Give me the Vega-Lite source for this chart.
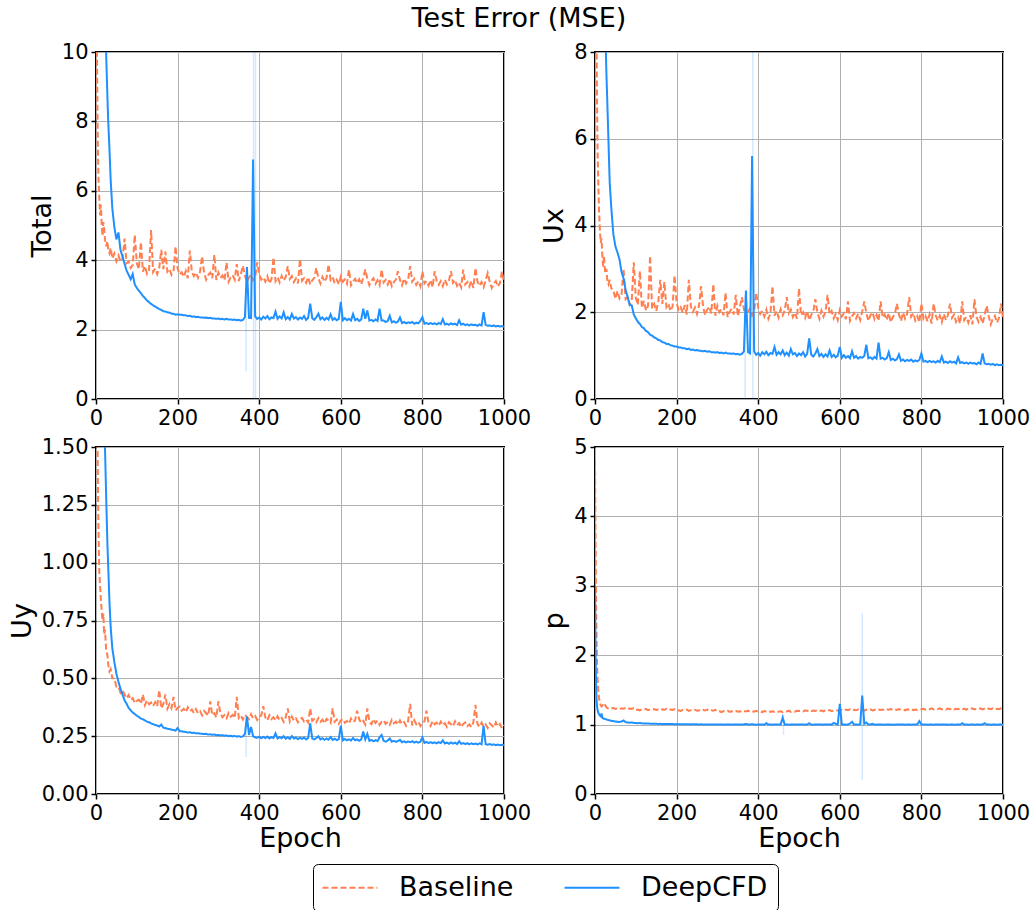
{
"$schema":"https://vega.github.io/schema/vega-lite/v6.json",
"background":"white",
"padding":{"left":7,"top":5,"right":5,"bottom":5},
"title":{"text":"Test Error (MSE)","fontSize":27,"font":"DejaVu Sans","fontWeight":"normal","color":"black","anchor":"middle","offset":7},
"datasets":{
"st":[
{"k":"T","e":368,"lo":0.8,"hi":3.6},
{"k":"T","e":386,"lo":0,"hi":10},
{"k":"T","e":391,"lo":0,"hi":10},
{"k":"X","e":368,"lo":0,"hi":2.4},
{"k":"X","e":387,"lo":0,"hi":8},
{"k":"Y","e":368,"lo":0.16,"hi":0.33},
{"k":"P","e":655,"lo":0.2,"hi":2.6},
{"k":"P","e":462,"lo":0.85,"hi":1.15}
],
"d":[
{"s":"Baseline","e":0,"T":16,"X":20,"Y":3.0,"P":4.8},
{"s":"Baseline","e":1,"T":13,"X":15,"Y":2.4,"P":4.0},
{"s":"Baseline","e":2,"T":10.5,"X":12,"Y":2.0,"P":3.2},
{"s":"Baseline","e":3,"T":9.0,"X":9.8,"Y":1.7,"P":2.6},
{"s":"Baseline","e":4,"T":7.8,"X":8.0,"Y":1.48,"P":2.2},
{"s":"Baseline","e":5,"T":7.0,"X":6.8,"Y":1.3,"P":1.9},
{"s":"Baseline","e":6,"T":6.4,"X":5.9,"Y":1.15,"P":1.7},
{"s":"Baseline","e":8,"T":5.8,"X":5.0,"Y":0.96,"P":1.5},
{"s":"Baseline","e":10,"T":5.3,"X":4.3,"Y":0.9,"P":1.38},
{"s":"Baseline","e":12,"T":5.6,"X":3.9,"Y":0.84,"P":1.31},
{"s":"Baseline","e":14,"T":5.0,"X":3.6,"Y":0.79,"P":1.28},
{"s":"Baseline","e":16,"T":4.7,"X":3.7,"Y":0.75,"P":1.26},
{"s":"Baseline","e":18,"T":5.1,"X":3.3,"Y":0.78,"P":1.27},
{"s":"Baseline","e":20,"T":4.9,"X":3.05,"Y":0.69,"P":1.3},
{"s":"Baseline","e":22,"T":4.6,"X":3.3,"Y":0.71,"P":1.31},
{"s":"Baseline","e":25,"T":4.4,"X":2.9,"Y":0.62,"P":1.28},
{"s":"Baseline","e":28,"T":4.55,"X":3.0,"Y":0.6,"P":1.25},
{"s":"Baseline","e":30,"T":4.3,"X":2.75,"Y":0.56,"P":1.24},
{"s":"Baseline","e":33,"T":4.2,"X":2.65,"Y":0.53,"P":1.23},
{"s":"Baseline","e":36,"T":4.35,"X":2.75,"Y":0.54,"P":1.225},
{"s":"Baseline","e":40,"T":4.05,"X":2.55,"Y":0.5,"P":1.235},
{"s":"Baseline","e":45,"T":4.19,"X":2.51,"Y":0.5,"P":1.238},
{"s":"Baseline","e":50,"T":3.97,"X":2.31,"Y":0.464,"P":1.225},
{"s":"Baseline","e":55,"T":4.14,"X":2.49,"Y":0.464,"P":1.232},
{"s":"Baseline","e":60,"T":3.96,"X":2.32,"Y":0.438,"P":1.221},
{"s":"Baseline","e":65,"T":4.04,"X":2.41,"Y":0.448,"P":1.236},
{"s":"Baseline","e":70,"T":4.62,"X":3.0,"Y":0.43,"P":1.228},
{"s":"Baseline","e":75,"T":3.91,"X":2.3,"Y":0.414,"P":1.24},
{"s":"Baseline","e":80,"T":3.96,"X":2.35,"Y":0.428,"P":1.223},
{"s":"Baseline","e":85,"T":3.78,"X":2.18,"Y":0.407,"P":1.233},
{"s":"Baseline","e":90,"T":3.86,"X":2.27,"Y":0.414,"P":1.226},
{"s":"Baseline","e":95,"T":4.73,"X":3.15,"Y":0.393,"P":1.238},
{"s":"Baseline","e":100,"T":3.91,"X":2.33,"Y":0.403,"P":1.21},
{"s":"Baseline","e":105,"T":3.74,"X":2.17,"Y":0.408,"P":1.217},
{"s":"Baseline","e":110,"T":4.52,"X":2.95,"Y":0.39,"P":1.206},
{"s":"Baseline","e":115,"T":3.67,"X":2.1,"Y":0.43,"P":1.221},
{"s":"Baseline","e":120,"T":3.83,"X":2.26,"Y":0.384,"P":1.213},
{"s":"Baseline","e":125,"T":3.61,"X":2.04,"Y":0.405,"P":1.225},
{"s":"Baseline","e":130,"T":3.72,"X":2.15,"Y":0.388,"P":1.208},
{"s":"Baseline","e":135,"T":4.87,"X":3.3,"Y":0.395,"P":1.218},
{"s":"Baseline","e":140,"T":3.66,"X":2.09,"Y":0.38,"P":1.211},
{"s":"Baseline","e":145,"T":3.76,"X":2.19,"Y":0.397,"P":1.223},
{"s":"Baseline","e":150,"T":3.6,"X":2.03,"Y":0.379,"P":1.21},
{"s":"Baseline","e":155,"T":3.78,"X":2.23,"Y":0.45,"P":1.217},
{"s":"Baseline","e":160,"T":4.3,"X":2.75,"Y":0.37,"P":1.206},
{"s":"Baseline","e":165,"T":3.74,"X":2.19,"Y":0.389,"P":1.221},
{"s":"Baseline","e":170,"T":4.25,"X":2.7,"Y":0.43,"P":1.213},
{"s":"Baseline","e":175,"T":3.67,"X":2.12,"Y":0.369,"P":1.225},
{"s":"Baseline","e":180,"T":3.75,"X":2.2,"Y":0.389,"P":1.208},
{"s":"Baseline","e":185,"T":3.58,"X":2.03,"Y":0.371,"P":1.218},
{"s":"Baseline","e":190,"T":3.68,"X":2.13,"Y":0.42,"P":1.211},
{"s":"Baseline","e":195,"T":4.4,"X":2.85,"Y":0.361,"P":1.223},
{"s":"Baseline","e":200,"T":3.76,"X":2.21,"Y":0.373,"P":1.2},
{"s":"Baseline","e":205,"T":3.59,"X":2.06,"Y":0.378,"P":1.207},
{"s":"Baseline","e":210,"T":3.65,"X":2.12,"Y":0.36,"P":1.196},
{"s":"Baseline","e":215,"T":3.52,"X":1.99,"Y":0.368,"P":1.211},
{"s":"Baseline","e":220,"T":3.69,"X":2.16,"Y":0.354,"P":1.203},
{"s":"Baseline","e":225,"T":3.48,"X":1.95,"Y":0.375,"P":1.215},
{"s":"Baseline","e":230,"T":4.28,"X":2.75,"Y":0.358,"P":1.198},
{"s":"Baseline","e":235,"T":3.66,"X":2.13,"Y":0.365,"P":1.208},
{"s":"Baseline","e":240,"T":3.54,"X":2.01,"Y":0.35,"P":1.201},
{"s":"Baseline","e":245,"T":3.64,"X":2.11,"Y":0.367,"P":1.213},
{"s":"Baseline","e":250,"T":3.49,"X":1.96,"Y":0.349,"P":1.2},
{"s":"Baseline","e":255,"T":3.67,"X":2.16,"Y":0.358,"P":1.207},
{"s":"Baseline","e":260,"T":4.11,"X":2.6,"Y":0.34,"P":1.196},
{"s":"Baseline","e":265,"T":3.63,"X":2.12,"Y":0.359,"P":1.211},
{"s":"Baseline","e":270,"T":3.44,"X":1.93,"Y":0.349,"P":1.203},
{"s":"Baseline","e":275,"T":3.57,"X":2.06,"Y":0.339,"P":1.215},
{"s":"Baseline","e":280,"T":3.64,"X":2.13,"Y":0.4,"P":1.198},
{"s":"Baseline","e":285,"T":3.48,"X":1.97,"Y":0.341,"P":1.208},
{"s":"Baseline","e":290,"T":4.16,"X":2.65,"Y":0.349,"P":1.201},
{"s":"Baseline","e":295,"T":3.43,"X":1.92,"Y":0.331,"P":1.213},
{"s":"Baseline","e":300,"T":3.64,"X":2.15,"Y":0.4,"P":1.185},
{"s":"Baseline","e":305,"T":3.49,"X":2.0,"Y":0.349,"P":1.192},
{"s":"Baseline","e":310,"T":3.56,"X":2.07,"Y":0.332,"P":1.181},
{"s":"Baseline","e":315,"T":3.42,"X":1.93,"Y":0.341,"P":1.196},
{"s":"Baseline","e":320,"T":3.94,"X":2.45,"Y":0.328,"P":1.188},
{"s":"Baseline","e":325,"T":3.38,"X":1.89,"Y":0.35,"P":1.2},
{"s":"Baseline","e":330,"T":3.5,"X":2.01,"Y":0.334,"P":1.183},
{"s":"Baseline","e":335,"T":3.57,"X":2.08,"Y":0.342,"P":1.193},
{"s":"Baseline","e":340,"T":3.44,"X":1.95,"Y":0.328,"P":1.186},
{"s":"Baseline","e":345,"T":3.89,"X":2.4,"Y":0.42,"P":1.198},
{"s":"Baseline","e":350,"T":3.4,"X":1.91,"Y":0.329,"P":1.185},
{"s":"Baseline","e":355,"T":3.6,"X":2.11,"Y":0.339,"P":1.192},
{"s":"Baseline","e":360,"T":3.84,"X":2.35,"Y":0.322,"P":1.181},
{"s":"Baseline","e":365,"T":3.56,"X":2.07,"Y":0.342,"P":1.196},
{"s":"Baseline","e":370,"T":3.37,"X":1.88,"Y":0.333,"P":1.188},
{"s":"Baseline","e":375,"T":3.5,"X":2.01,"Y":0.324,"P":1.2},
{"s":"Baseline","e":380,"T":3.58,"X":2.09,"Y":0.345,"P":1.183},
{"s":"Baseline","e":385,"T":3.42,"X":1.93,"Y":0.328,"P":1.193},
{"s":"Baseline","e":390,"T":3.51,"X":2.02,"Y":0.337,"P":1.186},
{"s":"Baseline","e":395,"T":3.94,"X":2.45,"Y":0.32,"P":1.198},
{"s":"Baseline","e":400,"T":3.6,"X":2.11,"Y":0.333,"P":1.185},
{"s":"Baseline","e":405,"T":3.44,"X":1.96,"Y":0.339,"P":1.192},
{"s":"Baseline","e":410,"T":3.51,"X":2.03,"Y":0.38,"P":1.181},
{"s":"Baseline","e":415,"T":3.38,"X":1.9,"Y":0.331,"P":1.196},
{"s":"Baseline","e":420,"T":3.54,"X":2.06,"Y":0.318,"P":1.188},
{"s":"Baseline","e":425,"T":3.33,"X":1.85,"Y":0.34,"P":1.2},
{"s":"Baseline","e":430,"T":3.45,"X":1.97,"Y":0.324,"P":1.183},
{"s":"Baseline","e":435,"T":4.08,"X":2.6,"Y":0.332,"P":1.193},
{"s":"Baseline","e":440,"T":3.4,"X":1.92,"Y":0.318,"P":1.186},
{"s":"Baseline","e":445,"T":3.51,"X":2.03,"Y":0.336,"P":1.198},
{"s":"Baseline","e":450,"T":3.36,"X":1.88,"Y":0.319,"P":1.185},
{"s":"Baseline","e":455,"T":3.55,"X":2.07,"Y":0.329,"P":1.192},
{"s":"Baseline","e":460,"T":3.41,"X":1.93,"Y":0.312,"P":1.181},
{"s":"Baseline","e":465,"T":3.52,"X":2.04,"Y":0.332,"P":1.196},
{"s":"Baseline","e":470,"T":3.83,"X":2.35,"Y":0.37,"P":1.188},
{"s":"Baseline","e":475,"T":3.46,"X":1.98,"Y":0.314,"P":1.2},
{"s":"Baseline","e":480,"T":3.54,"X":2.06,"Y":0.335,"P":1.183},
{"s":"Baseline","e":485,"T":3.37,"X":1.89,"Y":0.318,"P":1.193},
{"s":"Baseline","e":490,"T":3.47,"X":1.99,"Y":0.327,"P":1.186},
{"s":"Baseline","e":495,"T":3.33,"X":1.85,"Y":0.31,"P":1.198},
{"s":"Baseline","e":500,"T":4.03,"X":2.55,"Y":0.323,"P":1.195},
{"s":"Baseline","e":505,"T":3.41,"X":1.93,"Y":0.329,"P":1.202},
{"s":"Baseline","e":510,"T":3.48,"X":2.0,"Y":0.313,"P":1.191},
{"s":"Baseline","e":515,"T":3.35,"X":1.87,"Y":0.321,"P":1.206},
{"s":"Baseline","e":520,"T":3.51,"X":2.03,"Y":0.309,"P":1.198},
{"s":"Baseline","e":525,"T":3.3,"X":1.82,"Y":0.37,"P":1.21},
{"s":"Baseline","e":530,"T":3.42,"X":1.94,"Y":0.316,"P":1.193},
{"s":"Baseline","e":535,"T":3.49,"X":2.01,"Y":0.323,"P":1.203},
{"s":"Baseline","e":540,"T":3.78,"X":2.3,"Y":0.31,"P":1.196},
{"s":"Baseline","e":545,"T":3.48,"X":2.0,"Y":0.328,"P":1.208},
{"s":"Baseline","e":550,"T":3.33,"X":1.85,"Y":0.312,"P":1.195},
{"s":"Baseline","e":555,"T":3.52,"X":2.04,"Y":0.321,"P":1.202},
{"s":"Baseline","e":560,"T":3.38,"X":1.9,"Y":0.305,"P":1.191},
{"s":"Baseline","e":565,"T":3.49,"X":2.01,"Y":0.325,"P":1.206},
{"s":"Baseline","e":570,"T":3.88,"X":2.4,"Y":0.317,"P":1.198},
{"s":"Baseline","e":575,"T":3.43,"X":1.95,"Y":0.307,"P":1.21},
{"s":"Baseline","e":580,"T":3.51,"X":2.03,"Y":0.37,"P":1.193},
{"s":"Baseline","e":585,"T":3.34,"X":1.86,"Y":0.312,"P":1.203},
{"s":"Baseline","e":590,"T":3.44,"X":1.96,"Y":0.322,"P":1.196},
{"s":"Baseline","e":595,"T":3.3,"X":1.82,"Y":0.304,"P":1.208},
{"s":"Baseline","e":600,"T":3.53,"X":2.05,"Y":0.318,"P":1.205},
{"s":"Baseline","e":605,"T":3.38,"X":1.9,"Y":0.324,"P":1.212},
{"s":"Baseline","e":610,"T":3.45,"X":1.97,"Y":0.308,"P":1.201},
{"s":"Baseline","e":615,"T":3.32,"X":1.84,"Y":0.316,"P":1.216},
{"s":"Baseline","e":620,"T":3.73,"X":2.25,"Y":0.304,"P":1.208},
{"s":"Baseline","e":625,"T":3.28,"X":1.8,"Y":0.326,"P":1.22},
{"s":"Baseline","e":630,"T":3.39,"X":1.91,"Y":0.311,"P":1.203},
{"s":"Baseline","e":635,"T":3.46,"X":1.98,"Y":0.318,"P":1.213},
{"s":"Baseline","e":640,"T":3.34,"X":1.86,"Y":0.36,"P":1.206},
{"s":"Baseline","e":645,"T":3.45,"X":1.97,"Y":0.323,"P":1.218},
{"s":"Baseline","e":650,"T":3.3,"X":1.82,"Y":0.307,"P":1.205},
{"s":"Baseline","e":655,"T":3.5,"X":2.02,"Y":0.316,"P":1.212},
{"s":"Baseline","e":660,"T":3.73,"X":2.25,"Y":0.3,"P":1.201},
{"s":"Baseline","e":665,"T":3.47,"X":1.99,"Y":0.37,"P":1.216},
{"s":"Baseline","e":670,"T":3.28,"X":1.8,"Y":0.312,"P":1.208},
{"s":"Baseline","e":675,"T":3.41,"X":1.93,"Y":0.302,"P":1.22},
{"s":"Baseline","e":680,"T":3.48,"X":2.0,"Y":0.324,"P":1.203},
{"s":"Baseline","e":685,"T":3.32,"X":1.84,"Y":0.307,"P":1.213},
{"s":"Baseline","e":690,"T":3.42,"X":1.94,"Y":0.317,"P":1.206},
{"s":"Baseline","e":695,"T":3.28,"X":1.8,"Y":0.299,"P":1.218},
{"s":"Baseline","e":700,"T":3.73,"X":2.25,"Y":0.313,"P":1.21},
{"s":"Baseline","e":705,"T":3.36,"X":1.88,"Y":0.319,"P":1.217},
{"s":"Baseline","e":710,"T":3.43,"X":1.95,"Y":0.303,"P":1.206},
{"s":"Baseline","e":715,"T":3.3,"X":1.82,"Y":0.311,"P":1.221},
{"s":"Baseline","e":720,"T":3.46,"X":1.98,"Y":0.299,"P":1.213},
{"s":"Baseline","e":725,"T":3.25,"X":1.77,"Y":0.321,"P":1.225},
{"s":"Baseline","e":730,"T":3.37,"X":1.89,"Y":0.306,"P":1.208},
{"s":"Baseline","e":735,"T":3.44,"X":1.96,"Y":0.313,"P":1.218},
{"s":"Baseline","e":740,"T":3.68,"X":2.2,"Y":0.3,"P":1.211},
{"s":"Baseline","e":745,"T":3.43,"X":1.95,"Y":0.318,"P":1.223},
{"s":"Baseline","e":750,"T":3.28,"X":1.8,"Y":0.302,"P":1.21},
{"s":"Baseline","e":755,"T":3.47,"X":1.99,"Y":0.311,"P":1.217},
{"s":"Baseline","e":760,"T":3.33,"X":1.85,"Y":0.295,"P":1.206},
{"s":"Baseline","e":765,"T":3.44,"X":1.96,"Y":0.315,"P":1.221},
{"s":"Baseline","e":770,"T":3.83,"X":2.35,"Y":0.39,"P":1.213},
{"s":"Baseline","e":775,"T":3.38,"X":1.9,"Y":0.297,"P":1.225},
{"s":"Baseline","e":780,"T":3.46,"X":1.98,"Y":0.319,"P":1.208},
{"s":"Baseline","e":785,"T":3.29,"X":1.81,"Y":0.302,"P":1.218},
{"s":"Baseline","e":790,"T":3.39,"X":1.91,"Y":0.312,"P":1.211},
{"s":"Baseline","e":795,"T":3.25,"X":1.77,"Y":0.294,"P":1.223},
{"s":"Baseline","e":800,"T":3.68,"X":2.2,"Y":0.308,"P":1.22},
{"s":"Baseline","e":805,"T":3.33,"X":1.85,"Y":0.314,"P":1.227},
{"s":"Baseline","e":810,"T":3.4,"X":1.92,"Y":0.36,"P":1.216},
{"s":"Baseline","e":815,"T":3.27,"X":1.79,"Y":0.306,"P":1.231},
{"s":"Baseline","e":820,"T":3.43,"X":1.95,"Y":0.294,"P":1.223},
{"s":"Baseline","e":825,"T":3.22,"X":1.74,"Y":0.316,"P":1.235},
{"s":"Baseline","e":830,"T":3.68,"X":2.2,"Y":0.301,"P":1.218},
{"s":"Baseline","e":835,"T":3.41,"X":1.93,"Y":0.308,"P":1.228},
{"s":"Baseline","e":840,"T":3.29,"X":1.81,"Y":0.295,"P":1.221},
{"s":"Baseline","e":845,"T":3.4,"X":1.92,"Y":0.313,"P":1.233},
{"s":"Baseline","e":850,"T":3.25,"X":1.77,"Y":0.297,"P":1.22},
{"s":"Baseline","e":855,"T":3.44,"X":1.96,"Y":0.306,"P":1.227},
{"s":"Baseline","e":860,"T":3.3,"X":1.82,"Y":0.29,"P":1.216},
{"s":"Baseline","e":865,"T":3.41,"X":1.93,"Y":0.31,"P":1.231},
{"s":"Baseline","e":870,"T":3.68,"X":2.2,"Y":0.302,"P":1.223},
{"s":"Baseline","e":875,"T":3.35,"X":1.87,"Y":0.292,"P":1.235},
{"s":"Baseline","e":880,"T":3.43,"X":1.95,"Y":0.314,"P":1.218},
{"s":"Baseline","e":885,"T":3.26,"X":1.78,"Y":0.297,"P":1.228},
{"s":"Baseline","e":890,"T":3.36,"X":1.88,"Y":0.307,"P":1.221},
{"s":"Baseline","e":895,"T":3.22,"X":1.74,"Y":0.289,"P":1.233},
{"s":"Baseline","e":900,"T":3.73,"X":2.25,"Y":0.303,"P":1.22},
{"s":"Baseline","e":905,"T":3.3,"X":1.82,"Y":0.309,"P":1.227},
{"s":"Baseline","e":910,"T":3.37,"X":1.89,"Y":0.293,"P":1.216},
{"s":"Baseline","e":915,"T":3.24,"X":1.76,"Y":0.301,"P":1.231},
{"s":"Baseline","e":920,"T":3.41,"X":1.93,"Y":0.289,"P":1.223},
{"s":"Baseline","e":925,"T":3.2,"X":1.72,"Y":0.311,"P":1.235},
{"s":"Baseline","e":930,"T":3.78,"X":2.3,"Y":0.385,"P":1.218},
{"s":"Baseline","e":935,"T":3.38,"X":1.9,"Y":0.303,"P":1.228},
{"s":"Baseline","e":940,"T":3.26,"X":1.78,"Y":0.29,"P":1.221},
{"s":"Baseline","e":945,"T":3.37,"X":1.89,"Y":0.308,"P":1.233},
{"s":"Baseline","e":950,"T":3.22,"X":1.74,"Y":0.292,"P":1.22},
{"s":"Baseline","e":955,"T":3.42,"X":1.94,"Y":0.301,"P":1.227},
{"s":"Baseline","e":960,"T":3.63,"X":2.15,"Y":0.285,"P":1.216},
{"s":"Baseline","e":965,"T":3.39,"X":1.91,"Y":0.305,"P":1.231},
{"s":"Baseline","e":970,"T":3.2,"X":1.72,"Y":0.297,"P":1.223},
{"s":"Baseline","e":975,"T":3.33,"X":1.85,"Y":0.287,"P":1.235},
{"s":"Baseline","e":980,"T":3.4,"X":1.92,"Y":0.309,"P":1.218},
{"s":"Baseline","e":985,"T":3.24,"X":1.76,"Y":0.292,"P":1.228},
{"s":"Baseline","e":990,"T":3.34,"X":1.86,"Y":0.302,"P":1.221},
{"s":"Baseline","e":995,"T":3.68,"X":2.2,"Y":0.284,"P":1.233},
{"s":"Baseline","e":1000,"T":3.33,"X":1.85,"Y":0.298,"P":1.22},
{"s":"DeepCFD","e":0,"T":60,"X":50,"Y":6.0,"P":3.0},
{"s":"DeepCFD","e":1,"T":55,"X":45,"Y":5.5,"P":2.3},
{"s":"DeepCFD","e":2,"T":50,"X":41,"Y":5.0,"P":1.8},
{"s":"DeepCFD","e":3,"T":46,"X":37,"Y":4.6,"P":1.5},
{"s":"DeepCFD","e":4,"T":42,"X":34,"Y":4.2,"P":1.35},
{"s":"DeepCFD","e":5,"T":39,"X":31,"Y":3.9,"P":1.27},
{"s":"DeepCFD","e":6,"T":36,"X":28,"Y":3.6,"P":1.22},
{"s":"DeepCFD","e":8,"T":31,"X":24,"Y":3.1,"P":1.17},
{"s":"DeepCFD","e":10,"T":27,"X":20,"Y":2.7,"P":1.15},
{"s":"DeepCFD","e":12,"T":23,"X":17.5,"Y":2.4,"P":1.13},
{"s":"DeepCFD","e":14,"T":20,"X":15.5,"Y":2.15,"P":1.12},
{"s":"DeepCFD","e":16,"T":17,"X":14,"Y":1.97,"P":1.16},
{"s":"DeepCFD","e":18,"T":15,"X":12.7,"Y":1.83,"P":1.1},
{"s":"DeepCFD","e":20,"T":13.2,"X":11.5,"Y":1.7,"P":1.09},
{"s":"DeepCFD","e":22,"T":11.8,"X":10.2,"Y":1.5,"P":1.085},
{"s":"DeepCFD","e":25,"T":9.9,"X":8.6,"Y":1.28,"P":1.08},
{"s":"DeepCFD","e":28,"T":8.7,"X":7.5,"Y":1.08,"P":1.075},
{"s":"DeepCFD","e":30,"T":8.0,"X":6.9,"Y":0.98,"P":1.07},
{"s":"DeepCFD","e":33,"T":7.2,"X":5.95,"Y":0.83,"P":1.065},
{"s":"DeepCFD","e":36,"T":6.3,"X":5.0,"Y":0.72,"P":1.06},
{"s":"DeepCFD","e":40,"T":5.5,"X":4.4,"Y":0.63,"P":1.055},
{"s":"DeepCFD","e":45,"T":4.95,"X":3.8,"Y":0.57,"P":1.05},
{"s":"DeepCFD","e":50,"T":4.6,"X":3.52,"Y":0.52,"P":1.045},
{"s":"DeepCFD","e":55,"T":4.8,"X":3.38,"Y":0.485,"P":1.04},
{"s":"DeepCFD","e":60,"T":4.3,"X":3.22,"Y":0.455,"P":1.038},
{"s":"DeepCFD","e":65,"T":4.1,"X":2.93,"Y":0.43,"P":1.045},
{"s":"DeepCFD","e":70,"T":3.9,"X":2.78,"Y":0.405,"P":1.06},
{"s":"DeepCFD","e":75,"T":3.7,"X":2.52,"Y":0.39,"P":1.035},
{"s":"DeepCFD","e":80,"T":3.58,"X":2.35,"Y":0.372,"P":1.03},
{"s":"DeepCFD","e":85,"T":3.45,"X":2.17,"Y":0.362,"P":1.028},
{"s":"DeepCFD","e":90,"T":3.6,"X":2.16,"Y":0.352,"P":1.03},
{"s":"DeepCFD","e":95,"T":3.3,"X":1.95,"Y":0.346,"P":1.025},
{"s":"DeepCFD","e":100,"T":3.2,"X":1.86,"Y":0.338,"P":1.022},
{"s":"DeepCFD","e":105,"T":3.12,"X":1.78,"Y":0.333,"P":1.02},
{"s":"DeepCFD","e":110,"T":3.05,"X":1.73,"Y":0.326,"P":1.024},
{"s":"DeepCFD","e":115,"T":2.97,"X":1.66,"Y":0.323,"P":1.018},
{"s":"DeepCFD","e":120,"T":2.91,"X":1.63,"Y":0.318,"P":1.017},
{"s":"DeepCFD","e":125,"T":2.84,"X":1.57,"Y":0.313,"P":1.015},
{"s":"DeepCFD","e":130,"T":2.79,"X":1.54,"Y":0.31,"P":1.016},
{"s":"DeepCFD","e":135,"T":2.74,"X":1.48,"Y":0.305,"P":1.013},
{"s":"DeepCFD","e":140,"T":2.7,"X":1.46,"Y":0.302,"P":1.014},
{"s":"DeepCFD","e":145,"T":2.66,"X":1.42,"Y":0.298,"P":1.012},
{"s":"DeepCFD","e":150,"T":2.63,"X":1.4,"Y":0.296,"P":1.012},
{"s":"DeepCFD","e":155,"T":2.59,"X":1.36,"Y":0.292,"P":1.01},
{"s":"DeepCFD","e":160,"T":2.57,"X":1.35,"Y":0.3,"P":1.011},
{"s":"DeepCFD","e":165,"T":2.53,"X":1.31,"Y":0.287,"P":1.009},
{"s":"DeepCFD","e":170,"T":2.52,"X":1.3,"Y":0.285,"P":1.01},
{"s":"DeepCFD","e":175,"T":2.5,"X":1.27,"Y":0.282,"P":1.008},
{"s":"DeepCFD","e":180,"T":2.49,"X":1.27,"Y":0.281,"P":1.009},
{"s":"DeepCFD","e":185,"T":2.46,"X":1.24,"Y":0.278,"P":1.007},
{"s":"DeepCFD","e":190,"T":2.46,"X":1.23,"Y":0.277,"P":1.008},
{"s":"DeepCFD","e":195,"T":2.43,"X":1.21,"Y":0.274,"P":1.006},
{"s":"DeepCFD","e":200,"T":2.44,"X":1.21,"Y":0.285,"P":1.007},
{"s":"DeepCFD","e":205,"T":2.43,"X":1.19,"Y":0.272,"P":1.005},
{"s":"DeepCFD","e":210,"T":2.43,"X":1.19,"Y":0.271,"P":1.006},
{"s":"DeepCFD","e":215,"T":2.41,"X":1.17,"Y":0.269,"P":1.004},
{"s":"DeepCFD","e":220,"T":2.41,"X":1.17,"Y":0.268,"P":1.006},
{"s":"DeepCFD","e":225,"T":2.39,"X":1.15,"Y":0.266,"P":1.004},
{"s":"DeepCFD","e":230,"T":2.4,"X":1.16,"Y":0.267,"P":1.005},
{"s":"DeepCFD","e":235,"T":2.37,"X":1.13,"Y":0.264,"P":1.003},
{"s":"DeepCFD","e":240,"T":2.38,"X":1.14,"Y":0.265,"P":1.005},
{"s":"DeepCFD","e":245,"T":2.36,"X":1.12,"Y":0.262,"P":1.003},
{"s":"DeepCFD","e":250,"T":2.37,"X":1.13,"Y":0.263,"P":1.004},
{"s":"DeepCFD","e":255,"T":2.35,"X":1.11,"Y":0.261,"P":1.002},
{"s":"DeepCFD","e":260,"T":2.35,"X":1.11,"Y":0.26,"P":1.004},
{"s":"DeepCFD","e":265,"T":2.34,"X":1.1,"Y":0.259,"P":1.002},
{"s":"DeepCFD","e":270,"T":2.35,"X":1.11,"Y":0.26,"P":1.003},
{"s":"DeepCFD","e":275,"T":2.33,"X":1.09,"Y":0.257,"P":1.001},
{"s":"DeepCFD","e":280,"T":2.34,"X":1.1,"Y":0.258,"P":1.003},
{"s":"DeepCFD","e":285,"T":2.32,"X":1.08,"Y":0.256,"P":1.001},
{"s":"DeepCFD","e":290,"T":2.32,"X":1.08,"Y":0.257,"P":1.003},
{"s":"DeepCFD","e":295,"T":2.31,"X":1.07,"Y":0.254,"P":1.0},
{"s":"DeepCFD","e":300,"T":2.32,"X":1.08,"Y":0.255,"P":1.002},
{"s":"DeepCFD","e":305,"T":2.3,"X":1.06,"Y":0.253,"P":1.0},
{"s":"DeepCFD","e":310,"T":2.31,"X":1.07,"Y":0.254,"P":1.002},
{"s":"DeepCFD","e":315,"T":2.29,"X":1.05,"Y":0.252,"P":0.999},
{"s":"DeepCFD","e":320,"T":2.31,"X":1.07,"Y":0.253,"P":1.001},
{"s":"DeepCFD","e":325,"T":2.29,"X":1.05,"Y":0.25,"P":1.0},
{"s":"DeepCFD","e":330,"T":2.29,"X":1.05,"Y":0.252,"P":1.002},
{"s":"DeepCFD","e":335,"T":2.28,"X":1.04,"Y":0.249,"P":0.999},
{"s":"DeepCFD","e":340,"T":2.29,"X":1.05,"Y":0.251,"P":1.001},
{"s":"DeepCFD","e":345,"T":2.27,"X":1.03,"Y":0.248,"P":1.0},
{"s":"DeepCFD","e":350,"T":2.28,"X":1.04,"Y":0.25,"P":1.002},
{"s":"DeepCFD","e":355,"T":2.26,"X":1.02,"Y":0.247,"P":0.999},
{"s":"DeepCFD","e":360,"T":2.28,"X":1.04,"Y":0.249,"P":1.001},
{"s":"DeepCFD","e":365,"T":2.36,"X":1.1,"Y":0.26,"P":1.003},
{"s":"DeepCFD","e":370,"T":3.8,"X":2.5,"Y":0.335,"P":1.01},
{"s":"DeepCFD","e":375,"T":2.34,"X":1.08,"Y":0.255,"P":1.0},
{"s":"DeepCFD","e":380,"T":2.33,"X":1.05,"Y":0.29,"P":1.002},
{"s":"DeepCFD","e":385,"T":6.9,"X":5.6,"Y":0.25,"P":1.005},
{"s":"DeepCFD","e":390,"T":2.38,"X":1.1,"Y":0.245,"P":1.0},
{"s":"DeepCFD","e":395,"T":2.31,"X":1.02,"Y":0.243,"P":0.999},
{"s":"DeepCFD","e":400,"T":2.35,"X":1.06,"Y":0.248,"P":1.002},
{"s":"DeepCFD","e":405,"T":2.29,"X":1.0,"Y":0.241,"P":1.0},
{"s":"DeepCFD","e":410,"T":2.37,"X":1.08,"Y":0.247,"P":1.001},
{"s":"DeepCFD","e":415,"T":2.32,"X":1.03,"Y":0.242,"P":0.999},
{"s":"DeepCFD","e":420,"T":2.39,"X":1.09,"Y":0.248,"P":1.02},
{"s":"DeepCFD","e":425,"T":2.3,"X":1.01,"Y":0.24,"P":1.0},
{"s":"DeepCFD","e":430,"T":2.35,"X":1.06,"Y":0.246,"P":1.001},
{"s":"DeepCFD","e":435,"T":2.33,"X":1.04,"Y":0.242,"P":0.999},
{"s":"DeepCFD","e":440,"T":2.52,"X":1.2,"Y":0.262,"P":1.003},
{"s":"DeepCFD","e":445,"T":2.31,"X":1.02,"Y":0.24,"P":1.0},
{"s":"DeepCFD","e":450,"T":2.38,"X":1.08,"Y":0.246,"P":1.002},
{"s":"DeepCFD","e":455,"T":2.32,"X":1.03,"Y":0.241,"P":0.999},
{"s":"DeepCFD","e":460,"T":2.5,"X":1.12,"Y":0.25,"P":1.1},
{"s":"DeepCFD","e":465,"T":2.3,"X":1.01,"Y":0.239,"P":1.0},
{"s":"DeepCFD","e":470,"T":2.36,"X":1.07,"Y":0.245,"P":1.001},
{"s":"DeepCFD","e":475,"T":2.29,"X":1.0,"Y":0.238,"P":0.999},
{"s":"DeepCFD","e":480,"T":2.45,"X":1.15,"Y":0.25,"P":1.002},
{"s":"DeepCFD","e":485,"T":2.32,"X":1.03,"Y":0.24,"P":1.0},
{"s":"DeepCFD","e":490,"T":2.36,"X":1.06,"Y":0.244,"P":1.001},
{"s":"DeepCFD","e":495,"T":2.29,"X":0.99,"Y":0.237,"P":0.999},
{"s":"DeepCFD","e":500,"T":2.35,"X":1.05,"Y":0.243,"P":1.001},
{"s":"DeepCFD","e":505,"T":2.31,"X":1.01,"Y":0.238,"P":1.0},
{"s":"DeepCFD","e":510,"T":2.39,"X":1.08,"Y":0.244,"P":1.002},
{"s":"DeepCFD","e":515,"T":2.28,"X":0.98,"Y":0.236,"P":0.999},
{"s":"DeepCFD","e":520,"T":2.34,"X":1.04,"Y":0.242,"P":1.001},
{"s":"DeepCFD","e":525,"T":2.75,"X":1.4,"Y":0.305,"P":1.02},
{"s":"DeepCFD","e":530,"T":2.33,"X":1.02,"Y":0.24,"P":1.0},
{"s":"DeepCFD","e":535,"T":2.28,"X":0.98,"Y":0.236,"P":0.999},
{"s":"DeepCFD","e":540,"T":2.36,"X":1.05,"Y":0.242,"P":1.001},
{"s":"DeepCFD","e":545,"T":2.46,"X":1.15,"Y":0.25,"P":1.003},
{"s":"DeepCFD","e":550,"T":2.3,"X":0.99,"Y":0.236,"P":1.0},
{"s":"DeepCFD","e":555,"T":2.35,"X":1.04,"Y":0.241,"P":1.001},
{"s":"DeepCFD","e":560,"T":2.28,"X":0.97,"Y":0.234,"P":0.999},
{"s":"DeepCFD","e":565,"T":2.34,"X":1.03,"Y":0.24,"P":1.002},
{"s":"DeepCFD","e":570,"T":2.29,"X":0.98,"Y":0.235,"P":1.0},
{"s":"DeepCFD","e":575,"T":2.44,"X":1.12,"Y":0.246,"P":1.003},
{"s":"DeepCFD","e":580,"T":2.28,"X":0.97,"Y":0.234,"P":0.999},
{"s":"DeepCFD","e":585,"T":2.33,"X":1.02,"Y":0.239,"P":1.025},
{"s":"DeepCFD","e":590,"T":2.27,"X":0.96,"Y":0.233,"P":1.01},
{"s":"DeepCFD","e":595,"T":2.31,"X":1.0,"Y":0.237,"P":1.0},
{"s":"DeepCFD","e":600,"T":2.8,"X":1.2,"Y":0.295,"P":1.3},
{"s":"DeepCFD","e":605,"T":2.27,"X":0.95,"Y":0.232,"P":1.0},
{"s":"DeepCFD","e":610,"T":2.33,"X":1.01,"Y":0.238,"P":1.002},
{"s":"DeepCFD","e":615,"T":2.27,"X":0.95,"Y":0.232,"P":0.999},
{"s":"DeepCFD","e":620,"T":2.31,"X":0.99,"Y":0.236,"P":1.001},
{"s":"DeepCFD","e":625,"T":2.26,"X":0.94,"Y":0.231,"P":1.015},
{"s":"DeepCFD","e":630,"T":2.45,"X":1.1,"Y":0.242,"P":1.04},
{"s":"DeepCFD","e":635,"T":2.27,"X":0.95,"Y":0.232,"P":1.0},
{"s":"DeepCFD","e":640,"T":2.31,"X":0.99,"Y":0.236,"P":1.001},
{"s":"DeepCFD","e":645,"T":2.25,"X":0.93,"Y":0.23,"P":0.999},
{"s":"DeepCFD","e":650,"T":2.29,"X":0.97,"Y":0.235,"P":1.002},
{"s":"DeepCFD","e":655,"T":2.6,"X":0.95,"Y":0.27,"P":1.42},
{"s":"DeepCFD","e":660,"T":2.31,"X":0.99,"Y":0.236,"P":1.01},
{"s":"DeepCFD","e":665,"T":2.55,"X":1.25,"Y":0.26,"P":1.03},
{"s":"DeepCFD","e":670,"T":2.26,"X":0.94,"Y":0.23,"P":1.0},
{"s":"DeepCFD","e":675,"T":2.28,"X":0.96,"Y":0.234,"P":1.001},
{"s":"DeepCFD","e":680,"T":2.24,"X":0.92,"Y":0.228,"P":1.01},
{"s":"DeepCFD","e":685,"T":2.29,"X":0.97,"Y":0.233,"P":1.0},
{"s":"DeepCFD","e":690,"T":2.25,"X":0.93,"Y":0.229,"P":0.999},
{"s":"DeepCFD","e":695,"T":2.6,"X":1.3,"Y":0.245,"P":1.002},
{"s":"DeepCFD","e":700,"T":2.26,"X":0.93,"Y":0.255,"P":1.0},
{"s":"DeepCFD","e":705,"T":2.26,"X":0.95,"Y":0.23,"P":1.001},
{"s":"DeepCFD","e":710,"T":2.22,"X":0.91,"Y":0.226,"P":0.999},
{"s":"DeepCFD","e":715,"T":2.25,"X":0.94,"Y":0.231,"P":1.001},
{"s":"DeepCFD","e":720,"T":2.4,"X":1.08,"Y":0.24,"P":1.002},
{"s":"DeepCFD","e":725,"T":2.21,"X":0.9,"Y":0.226,"P":0.999},
{"s":"DeepCFD","e":730,"T":2.24,"X":0.93,"Y":0.23,"P":1.0},
{"s":"DeepCFD","e":735,"T":2.2,"X":0.89,"Y":0.225,"P":0.999},
{"s":"DeepCFD","e":740,"T":2.23,"X":0.92,"Y":0.229,"P":1.001},
{"s":"DeepCFD","e":745,"T":2.35,"X":1.03,"Y":0.234,"P":1.002},
{"s":"DeepCFD","e":750,"T":2.19,"X":0.88,"Y":0.224,"P":1.0},
{"s":"DeepCFD","e":755,"T":2.22,"X":0.91,"Y":0.228,"P":1.001},
{"s":"DeepCFD","e":760,"T":2.18,"X":0.87,"Y":0.223,"P":0.999},
{"s":"DeepCFD","e":765,"T":2.21,"X":0.9,"Y":0.227,"P":1.0},
{"s":"DeepCFD","e":770,"T":2.19,"X":0.88,"Y":0.224,"P":1.001},
{"s":"DeepCFD","e":775,"T":2.22,"X":0.91,"Y":0.228,"P":0.999},
{"s":"DeepCFD","e":780,"T":2.17,"X":0.86,"Y":0.222,"P":1.0},
{"s":"DeepCFD","e":785,"T":2.2,"X":0.89,"Y":0.226,"P":1.001},
{"s":"DeepCFD","e":790,"T":2.18,"X":0.87,"Y":0.222,"P":1.003},
{"s":"DeepCFD","e":795,"T":2.25,"X":0.9,"Y":0.226,"P":1.05},
{"s":"DeepCFD","e":800,"T":2.36,"X":1.05,"Y":0.245,"P":1.002},
{"s":"DeepCFD","e":805,"T":2.17,"X":0.86,"Y":0.221,"P":1.0},
{"s":"DeepCFD","e":810,"T":2.19,"X":0.88,"Y":0.225,"P":1.001},
{"s":"DeepCFD","e":815,"T":2.16,"X":0.85,"Y":0.22,"P":0.999},
{"s":"DeepCFD","e":820,"T":2.19,"X":0.88,"Y":0.224,"P":1.0},
{"s":"DeepCFD","e":825,"T":2.16,"X":0.85,"Y":0.22,"P":1.001},
{"s":"DeepCFD","e":830,"T":2.18,"X":0.87,"Y":0.223,"P":0.999},
{"s":"DeepCFD","e":835,"T":2.15,"X":0.84,"Y":0.219,"P":1.0},
{"s":"DeepCFD","e":840,"T":2.19,"X":0.88,"Y":0.224,"P":1.001},
{"s":"DeepCFD","e":845,"T":2.16,"X":0.85,"Y":0.22,"P":0.999},
{"s":"DeepCFD","e":850,"T":2.3,"X":0.98,"Y":0.232,"P":1.003},
{"s":"DeepCFD","e":855,"T":2.15,"X":0.84,"Y":0.218,"P":1.0},
{"s":"DeepCFD","e":860,"T":2.17,"X":0.86,"Y":0.222,"P":1.001},
{"s":"DeepCFD","e":865,"T":2.14,"X":0.83,"Y":0.217,"P":0.999},
{"s":"DeepCFD","e":870,"T":2.18,"X":0.87,"Y":0.223,"P":1.0},
{"s":"DeepCFD","e":875,"T":2.15,"X":0.84,"Y":0.218,"P":1.001},
{"s":"DeepCFD","e":880,"T":2.17,"X":0.86,"Y":0.222,"P":0.999},
{"s":"DeepCFD","e":885,"T":2.13,"X":0.82,"Y":0.216,"P":1.0},
{"s":"DeepCFD","e":890,"T":2.27,"X":0.96,"Y":0.228,"P":1.002},
{"s":"DeepCFD","e":895,"T":2.14,"X":0.83,"Y":0.217,"P":1.0},
{"s":"DeepCFD","e":900,"T":2.17,"X":0.85,"Y":0.22,"P":1.02},
{"s":"DeepCFD","e":905,"T":2.13,"X":0.82,"Y":0.216,"P":1.0},
{"s":"DeepCFD","e":910,"T":2.15,"X":0.84,"Y":0.22,"P":1.001},
{"s":"DeepCFD","e":915,"T":2.12,"X":0.81,"Y":0.215,"P":0.999},
{"s":"DeepCFD","e":920,"T":2.15,"X":0.84,"Y":0.219,"P":1.0},
{"s":"DeepCFD","e":925,"T":2.13,"X":0.82,"Y":0.215,"P":1.001},
{"s":"DeepCFD","e":930,"T":2.14,"X":0.83,"Y":0.218,"P":0.999},
{"s":"DeepCFD","e":935,"T":2.11,"X":0.8,"Y":0.214,"P":1.0},
{"s":"DeepCFD","e":940,"T":2.15,"X":0.84,"Y":0.219,"P":1.001},
{"s":"DeepCFD","e":945,"T":2.12,"X":0.81,"Y":0.215,"P":0.999},
{"s":"DeepCFD","e":950,"T":2.5,"X":1.05,"Y":0.295,"P":1.003},
{"s":"DeepCFD","e":955,"T":2.14,"X":0.82,"Y":0.215,"P":1.02},
{"s":"DeepCFD","e":960,"T":2.11,"X":0.8,"Y":0.213,"P":1.0},
{"s":"DeepCFD","e":965,"T":2.12,"X":0.81,"Y":0.216,"P":1.001},
{"s":"DeepCFD","e":970,"T":2.1,"X":0.79,"Y":0.212,"P":0.999},
{"s":"DeepCFD","e":975,"T":2.12,"X":0.81,"Y":0.215,"P":1.0},
{"s":"DeepCFD","e":980,"T":2.09,"X":0.78,"Y":0.211,"P":1.001},
{"s":"DeepCFD","e":985,"T":2.11,"X":0.8,"Y":0.214,"P":0.999},
{"s":"DeepCFD","e":990,"T":2.09,"X":0.78,"Y":0.211,"P":1.0},
{"s":"DeepCFD","e":995,"T":2.1,"X":0.79,"Y":0.213,"P":1.001},
{"s":"DeepCFD","e":1000,"T":2.08,"X":0.78,"Y":0.211,"P":1.0}
]},
"data":{"name":"d"},
"columns":2,
"spacing":{"row":6,"column":7},
"align":"each",
"resolve":{"scale":{"y":"independent"}},
"concat":[
{"width":408,"height":347,
"encoding":{"x":{"field":"e","type":"quantitative","scale":{"domain":[0,1000],"nice":false},"axis":{"values":[0,200,400,600,800,1000],"format":"d","title":null}}},
"layer":[
{"data":{"name":"st"},"transform":[{"filter":{"field":"k","equal":"T"}}],"mark":{"type":"rule","color":"#1E90FF","opacity":0.2,"strokeWidth":1.5,"clip":true},
"encoding":{"y":{"field":"lo","type":"quantitative","title":"Total"},"y2":{"field":"hi"}}},
{"mark":{"type":"line","clip":true,"strokeWidth":2},
"encoding":{
"y":{"field":"T","type":"quantitative","scale":{"domain":[0,10],"nice":false},"axis":{"values":[0,2,4,6,8,10],"format":"d","title":"Total"}},
"color":{"field":"s","type":"nominal","scale":{"domain":["Baseline","DeepCFD"],"range":["#FF7F50","#1E90FF"]},"legend":{"title":null}},
"strokeDash":{"field":"s","type":"nominal","scale":{"domain":["Baseline","DeepCFD"],"range":[[6,3],[1,0]]},"legend":{"title":null}}}}
]},
{"width":408,"height":347,
"encoding":{"x":{"field":"e","type":"quantitative","scale":{"domain":[0,1000],"nice":false},"axis":{"values":[0,200,400,600,800,1000],"format":"d","title":null}}},
"layer":[
{"data":{"name":"st"},"transform":[{"filter":{"field":"k","equal":"X"}}],"mark":{"type":"rule","color":"#1E90FF","opacity":0.2,"strokeWidth":1.5,"clip":true},
"encoding":{"y":{"field":"lo","type":"quantitative","title":"Ux"},"y2":{"field":"hi"}}},
{"mark":{"type":"line","clip":true,"strokeWidth":2},
"encoding":{
"y":{"field":"X","type":"quantitative","scale":{"domain":[0,8],"nice":false},"axis":{"values":[0,2,4,6,8],"format":"d","title":"Ux"}},
"color":{"field":"s","type":"nominal","scale":{"domain":["Baseline","DeepCFD"],"range":["#FF7F50","#1E90FF"]},"legend":{"title":null}},
"strokeDash":{"field":"s","type":"nominal","scale":{"domain":["Baseline","DeepCFD"],"range":[[6,3],[1,0]]},"legend":{"title":null}}}}
]},
{"width":408,"height":347,
"encoding":{"x":{"field":"e","type":"quantitative","scale":{"domain":[0,1000],"nice":false},"axis":{"values":[0,200,400,600,800,1000],"format":"d","title":"Epoch"}}},
"layer":[
{"data":{"name":"st"},"transform":[{"filter":{"field":"k","equal":"Y"}}],"mark":{"type":"rule","color":"#1E90FF","opacity":0.2,"strokeWidth":1.5,"clip":true},
"encoding":{"y":{"field":"lo","type":"quantitative","title":"Uy"},"y2":{"field":"hi"}}},
{"mark":{"type":"line","clip":true,"strokeWidth":2},
"encoding":{
"y":{"field":"Y","type":"quantitative","scale":{"domain":[0,1.5],"nice":false},"axis":{"values":[0,0.25,0.5,0.75,1,1.25,1.5],"format":".2f","title":"Uy"}},
"color":{"field":"s","type":"nominal","scale":{"domain":["Baseline","DeepCFD"],"range":["#FF7F50","#1E90FF"]},"legend":{"title":null}},
"strokeDash":{"field":"s","type":"nominal","scale":{"domain":["Baseline","DeepCFD"],"range":[[6,3],[1,0]]},"legend":{"title":null}}}}
]},
{"width":408,"height":347,
"encoding":{"x":{"field":"e","type":"quantitative","scale":{"domain":[0,1000],"nice":false},"axis":{"values":[0,200,400,600,800,1000],"format":"d","title":"Epoch"}}},
"layer":[
{"data":{"name":"st"},"transform":[{"filter":{"field":"k","equal":"P"}}],"mark":{"type":"rule","color":"#1E90FF","opacity":0.2,"strokeWidth":1.5,"clip":true},
"encoding":{"y":{"field":"lo","type":"quantitative","title":"p"},"y2":{"field":"hi"}}},
{"mark":{"type":"line","clip":true,"strokeWidth":2},
"encoding":{
"y":{"field":"P","type":"quantitative","scale":{"domain":[0,5],"nice":false},"axis":{"values":[0,1,2,3,4,5],"format":"d","title":"p"}},
"color":{"field":"s","type":"nominal","scale":{"domain":["Baseline","DeepCFD"],"range":["#FF7F50","#1E90FF"]},"legend":{"title":null}},
"strokeDash":{"field":"s","type":"nominal","scale":{"domain":["Baseline","DeepCFD"],"range":[[6,3],[1,0]]},"legend":{"title":null}}}}
]}
],
"config":{
"font":"DejaVu Sans",
"view":{"stroke":"black","strokeWidth":2},
"axis":{"labelFont":"DejaVu Sans","labelFontSize":21,"labelColor":"black","titleFont":"DejaVu Sans","titleFontSize":27,"titleFontWeight":"normal","titleColor":"black","tickColor":"black","tickSize":5,"tickWidth":1.5,"domain":false,"grid":true,"gridColor":"#b0b0b0","gridWidth":1,"gridOpacity":1,"labelPadding":3,"labelFlush":false,"labelOverlap":false},
"axisY":{"titlePadding":5},
"axisX":{"titlePadding":2},
"legend":{"orient":"none","legendX":217,"legendY":812,"direction":"horizontal","labelFont":"DejaVu Sans","labelFontSize":27,"labelColor":"black","symbolType":"M-5,0H5","symbolSize":121,"symbolStrokeWidth":2,"symbolOffset":13.5,"strokeColor":"black","cornerRadius":5,"padding":10,"columnPadding":46,"labelOffset":35.5,"fillColor":"white"}
}
}
